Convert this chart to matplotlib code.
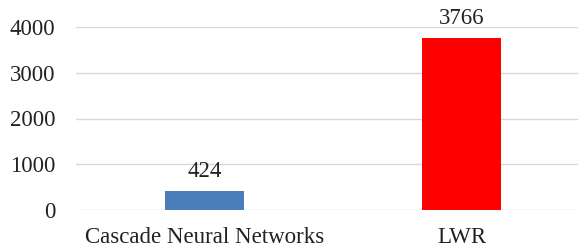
import matplotlib.pyplot as plt

categories = ["Cascade Neural Networks", "LWR"]
values = [424, 3766]
colors = ["#4A7EBB", "#FF0000"]

plt.rcParams['font.family'] = ['Liberation Serif', 'DejaVu Serif']

fig = plt.figure(figsize=(5.78, 2.5), dpi=100)
ax = fig.add_axes([76 / 578, 40 / 250, 502 / 578, 183 / 250])

x = range(len(categories))
bars = ax.bar(x, values, width=0.31, color=colors, zorder=3)
for b, v in zip(bars, values):
    ax.text(b.get_x() + b.get_width() / 2, v + 290, str(v), ha='center', va='baseline', fontsize=16.5, color='#222222')

ax.set_ylim(0, 4000)
ax.set_yticks([0, 1000, 2000, 3000, 4000])
ax.set_xlim(-0.5, 1.453)
ax.set_xticks(list(x))
ax.set_xticklabels(categories)
ax.tick_params(axis='both', length=0, labelsize=16.5, colors='#222222')
ax.tick_params(axis='y', pad=15)
ax.tick_params(axis='x', pad=12)
ax.yaxis.grid(True, color='#D9D9D9', linewidth=1, zorder=0)
for s in ax.spines.values():
    s.set_visible(False)

fig.savefig("out.png", dpi=100)
